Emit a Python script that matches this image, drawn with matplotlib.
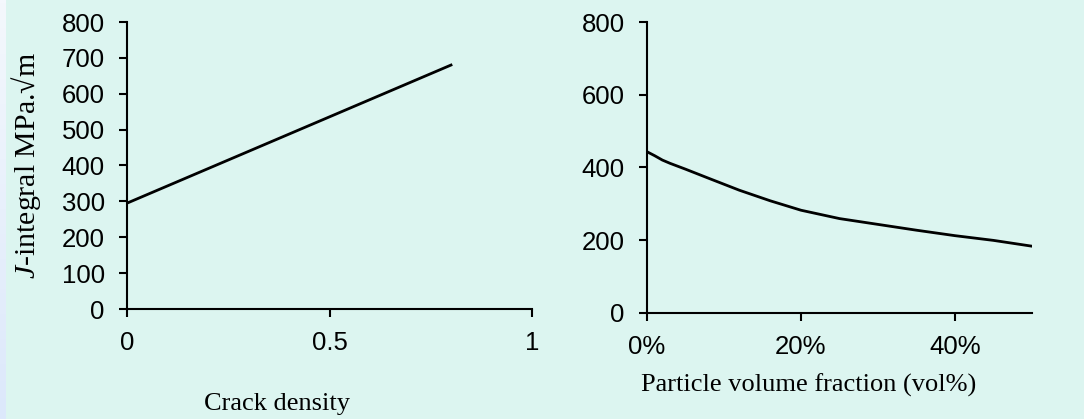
import numpy as np
import matplotlib
matplotlib.use("Agg")
import matplotlib.pyplot as plt
from matplotlib.ticker import FuncFormatter

# left panel: J-integral vs crack density
crack_density = [0.0, 0.8]
j_crack = [295, 680]

# right panel: J-integral vs particle volume fraction
vol_frac = [0.0, 0.01, 0.02, 0.03, 0.05, 0.08, 0.12, 0.16, 0.20, 0.25,
            0.30, 0.35, 0.40, 0.45, 0.50]
j_vol = [443, 432, 420, 411, 395, 370, 337, 308, 282, 259,
         243, 227, 212, 199, 183]

left_xticks = [0, 0.5, 1]
left_xlabels = ["0", "0.5", "1"]
right_xticks = [0, 0.2, 0.4]
left_yticks = list(range(0, 801, 100))
right_yticks = list(range(0, 801, 200))

BG = "#DCF5F0"
SERIF = ["Liberation Serif", "DejaVu Serif"]

plt.rcParams.update({
    "font.family": ["Liberation Sans", "DejaVu Sans"],
    "font.size": 18,
    "mathtext.fontset": "custom",
    "mathtext.rm": "Liberation Serif",
    "mathtext.it": "Liberation Serif:italic",
})

fig = plt.figure(figsize=(10.84, 4.19), dpi=100, facecolor=BG)

# thin bluish strip on the left edge, light strip on top
strip = fig.add_axes([0, 0, 6 / 1084, 1])
grad = np.linspace(0, 1, 100).reshape(-1, 1)
cmap = matplotlib.colors.LinearSegmentedColormap.from_list("s", ["#F4F8FD", "#DCE8FB"])
strip.imshow(grad, aspect="auto", cmap=cmap, extent=[0, 1, 0, 1], origin="upper")
strip.axis("off")
top = fig.add_axes([6 / 1084, 1 - 2 / 419, 1, 2 / 419])
top.set_facecolor("#F4F8FC")
top.axis("off")
top.patch.set_visible(True)


def style(ax):
    ax.set_facecolor("none")
    for s in ("top", "right"):
        ax.spines[s].set_visible(False)
    for s in ("left", "bottom"):
        ax.spines[s].set_linewidth(1.5)
    ax.tick_params(direction="out", length=6, width=1.5, pad=10, labelsize=18.5)


ax1 = fig.add_axes([127 / 1084, 110 / 419, 405 / 1084, 287 / 419])
style(ax1)
ax1.plot(crack_density, j_crack, color="black", linewidth=2.0)
ax1.set_xlim(0, 1)
ax1.set_ylim(0, 800)
ax1.set_xticks(left_xticks)
ax1.set_xticklabels(left_xlabels)
ax1.set_yticks(left_yticks)

ax2 = fig.add_axes([647 / 1084, 106.3 / 419, 385 / 1084, 290.7 / 419])
style(ax2)
ax2.plot(vol_frac, j_vol, color="black", linewidth=2.0)
ax2.set_xlim(0, 0.5)
ax2.set_ylim(0, 800)
ax2.set_xticks(right_xticks)
ax2.xaxis.set_major_formatter(FuncFormatter(lambda v, p: f"{v * 100:.0f}%"))
ax2.set_yticks(right_yticks)

fig.text(26 / 1084, 0.605, "$J$-integral MPa.\u221am", rotation=90,
         ha="center", va="center", family=SERIF, fontsize=21.5)
fig.text(277 / 1084, (419 - 410) / 419, "Crack density",
         ha="center", va="baseline", family=SERIF, fontsize=19)
fig.text(809 / 1084, (419 - 392) / 419, "Particle volume fraction (vol%)",
         ha="center", va="baseline", family=SERIF, fontsize=19)

fig.savefig("out.png", dpi=100, facecolor=BG)
